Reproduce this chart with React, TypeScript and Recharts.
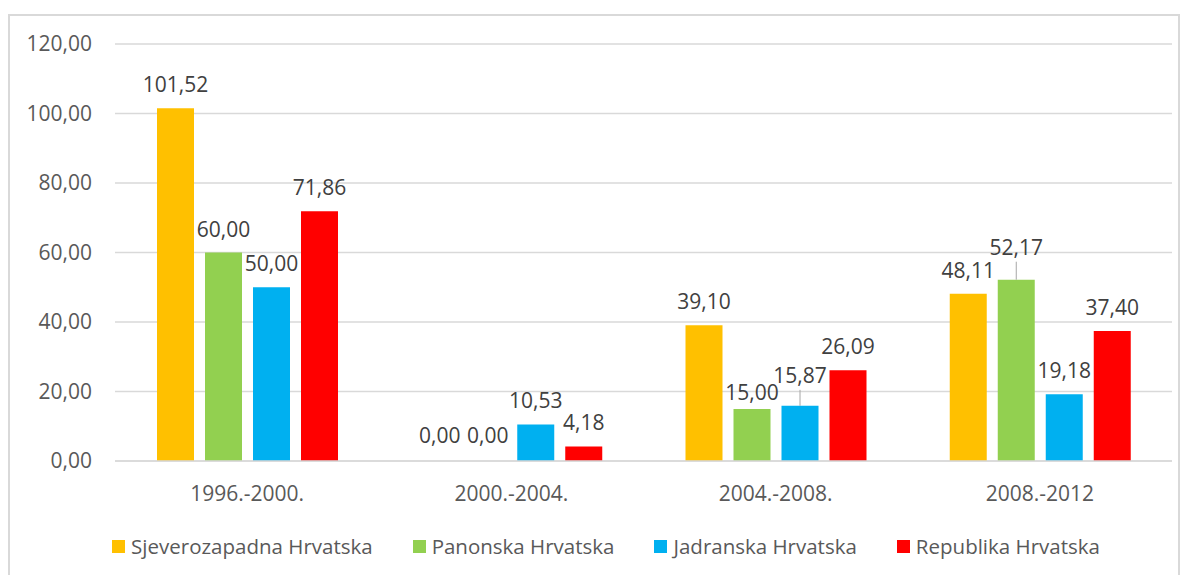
import React from "react";
import { BarChart, Bar, XAxis, YAxis, CartesianGrid, Legend, LabelList } from "recharts";

const periods = ["1996.-2000.", "2000.-2004.", "2004.-2008.", "2008.-2012"];
const sjeverozapadna = [101.52, 0.0, 39.1, 48.11];
const panonska = [60.0, 0.0, 15.0, 52.17];
const jadranska = [50.0, 10.53, 15.87, 19.18];
const republika = [71.86, 4.18, 26.09, 37.4];
const yTicks = [0, 20, 40, 60, 80, 100, 120];

const seriesDefs = [
  { key: "sz", name: "Sjeverozapadna Hrvatska", color: "#FFC000", values: sjeverozapadna },
  { key: "pa", name: "Panonska Hrvatska", color: "#92D050", values: panonska },
  { key: "ja", name: "Jadranska Hrvatska", color: "#00B0F0", values: jadranska },
  { key: "re", name: "Republika Hrvatska", color: "#FF0000", values: republika },
];

// label placement styling (by series key and category), distance of label centre above bar top
const labelLift: Record<string, { lift: number; leader?: boolean }> = {
  "pa-2004.-2008.": { lift: 17 },
  "ja-2004.-2008.": { lift: 31, leader: true },
  "pa-2008.-2012": { lift: 33, leader: true },
};

const data = periods.map((p, i) => {
  const row: Record<string, string | number> = { period: p };
  seriesDefs.forEach((s) => {
    row[s.key] = s.values[i];
  });
  return row;
});

const fmt = (v: number) => Number(v).toFixed(2).replace(".", ",");
const FONT = "'Open Sans', sans-serif";

const makeLabel = (key: string, values: number[]) => (props: any) => {
  const { x, y, width, value } = props;
  const cx = Number(x) + Number(width) / 2;
  const top = Number(y);
  const idx = values.indexOf(Number(value));
  const cat = idx >= 0 ? periods[idx] : "";
  const cfg = labelLift[`${key}-${cat}`];
  const lift = cfg ? cfg.lift : Number(value) === 0 ? 26 : 24;
  return (
    <g>
      {cfg && cfg.leader ? (
        <line x1={cx} x2={cx} y1={top - lift + 15} y2={top} stroke="#A6A6A6" strokeWidth={1} />
      ) : null}
      <text
        x={cx}
        y={top - lift}
        textAnchor="middle"
        dominantBaseline="central"
        fill="#404040"
        fontSize={21}
        fontFamily={FONT}
      >
        {fmt(value)}
      </text>
    </g>
  );
};

const LegendContent = () => (
  <div
    style={{
      height: 65,
      boxSizing: "border-box",
      paddingTop: 25,
      paddingLeft: 30,
      display: "flex",
      justifyContent: "center",
      alignItems: "flex-start",
      fontFamily: FONT,
      fontSize: 20.5,
      color: "#595959",
    }}
  >
    {seriesDefs.map((s, i) => (
      <div
        key={s.key}
        style={{
          display: "flex",
          alignItems: "center",
          marginRight: i < seriesDefs.length - 1 ? 40 : 0,
          height: 20,
          lineHeight: "20px",
        }}
      >
        <span style={{ width: 13, height: 13, background: s.color, display: "inline-block", marginRight: 6, flex: "none" }} />
        <span>{s.name}</span>
      </div>
    ))}
  </div>
);

export default function App() {
  return (
    <div style={{ paddingTop: 6 }}>
      <div style={{ width: 1168, height: 560, border: "2px solid #D9D9D9", background: "#fff" }}>
        <BarChart
          width={1168}
          height={560}
          data={data}
          margin={{ top: 28, right: 6, left: 0, bottom: 0 }}
          barCategoryGap={42}
          barGap={11}
          style={{ fontFamily: FONT }}
        >
          <CartesianGrid vertical={false} stroke="#D9D9D9" strokeWidth={1.3} />
          <XAxis
            dataKey="period"
            height={50}
            tickLine={false}
            tickSize={0}
            tickMargin={25}
            axisLine={{ stroke: "#D9D9D9", strokeWidth: 1.3 }}
            tick={{ fill: "#595959", fontSize: 21, fontFamily: FONT }}
          />
          <YAxis
            width={105}
            domain={[0, 120]}
            ticks={yTicks}
            interval={0}
            axisLine={false}
            tickLine={false}
            tickSize={0}
            tickMargin={23}
            tickFormatter={fmt}
            tick={{ fill: "#595959", fontSize: 21, fontFamily: FONT }}
          />
          <Legend verticalAlign="bottom" content={<LegendContent />} />
          {seriesDefs.map((s) => (
            <Bar
              key={s.key}
              dataKey={s.key}
              name={s.name}
              fill={s.color}
              minPointSize={0.001}
              isAnimationActive={false}
            >
              <LabelList dataKey={s.key} content={makeLabel(s.key, s.values)} />
            </Bar>
          ))}
        </BarChart>
      </div>
    </div>
  );
}
